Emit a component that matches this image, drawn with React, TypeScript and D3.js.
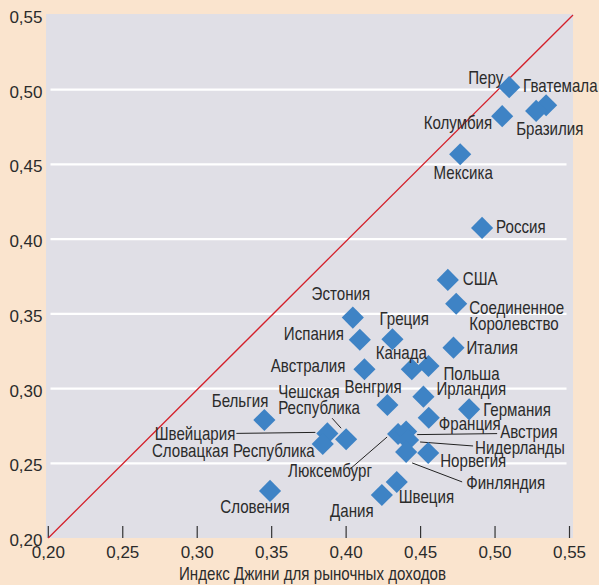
import * as d3 from 'd3';

const W = 599;
const H = 585;

// Страны (подписи) и значения индекса Джини
const countries = [
  'Перу', 'Гватемала', 'Бразилия', 'Колумбия', 'Мексика', 'Россия', 'США',
  'Соединенное\nКоролевство', 'Эстония', 'Испания', 'Греция', 'Италия',
  'Австралия', 'Канада', 'Польша', 'Ирландия', 'Венгрия', 'Германия',
  'Франция', 'Бельгия', 'Чешская\nРеспублика', 'Швейцария',
  'Словацкая Республика', 'Люксембург', 'Австрия', 'Нидерланды',
  'Финляндия', 'Норвегия', 'Швеция', 'Дания', 'Словения',
];
// Индекс Джини для рыночных доходов
const marketGini = [
  0.5095, 0.5343, 0.5276, 0.5048, 0.4766, 0.4913, 0.4683,
  0.4739, 0.4045, 0.4092, 0.4311, 0.4721,
  0.4123, 0.4441, 0.4553, 0.4519, 0.4277, 0.4826,
  0.4555, 0.3451, 0.4, 0.3874,
  0.3843, 0.4349, 0.4403, 0.4416,
  0.4403, 0.4551, 0.434, 0.424, 0.3489,
];
// Индекс Джини для располагаемых доходов
const disposableGini = [
  0.5017, 0.4896, 0.4858, 0.4823, 0.4568, 0.4075, 0.3727,
  0.3568, 0.3475, 0.3327, 0.333, 0.3274,
  0.3129, 0.3129, 0.3151, 0.2946, 0.289, 0.2861,
  0.2805, 0.279, 0.2661, 0.27,
  0.2629, 0.2696, 0.2712, 0.2656,
  0.2576, 0.2569, 0.2375, 0.2288, 0.2315,
];
const ticks = [0.2, 0.25, 0.3, 0.35, 0.4, 0.45, 0.5, 0.55];
const xTitle = 'Индекс Джини для рыночных доходов';

// размещение подписей относительно точки (px): [dx, dy, anchor]
const labelPos: [number, number, string][] = [
  [-6, -3, 'end'], [-23, -13, 'start'], [-20, 24, 'start'], [-10, 13, 'end'],
  [3, 25, 'middle'], [14, 5, 'start'], [15, 5, 'start'], [13, 10, 'start'],
  [-12, -18, 'middle'], [-16, 0, 'end'], [-13, -14, 'start'], [13, 6, 'start'],
  [-19, 3, 'end'], [-36, -10, 'start'], [15, 14, 'start'], [13, -2, 'start'],
  [-43, -12, 'start'], [14, 7, 'start'], [10, 12, 'start'], [4, -13, 'end'],
  [-68, -41, 'start'], [-92, 7, 'end'], [-8, 13, 'end'], [-110, 43, 'start'],
  [94, 6, 'start'], [67, 14, 'start'], [60, 37, 'start'], [12, 14, 'start'],
  [2, 21, 'start'], [-30, 22, 'middle'], [-15, 22, 'middle'],
];
// выноски: индекс страны -> [x1, y1, x2, y2] относительно точки
const leaders: Record<number, [number, number, number, number]> = {
  20: [-14, -21, -5, -11],
  21: [-91, 0, -12, -1],
  23: [-48, 35, -11, 3],
  24: [11, 3, 91, 2],
  25: [12, 2, 65, 6],
  26: [6, 11, 56, 30],
};

const PEACH = '#fae4ce';
const PLOT = '#e0dfe6';
const BLUE = '#3e83c5';
const RED = '#d4202a';
const TXT = '#2b2b2b';
const FONT = '"Liberation Sans", Arial, sans-serif';
const SX = 0.84;

const fmt = (v: number) => v.toFixed(2).replace('.', ',');

export default function App() {
  const x = d3.scaleLinear().domain([0.2, 0.55]).range([48.3, 569.5]);
  const y = d3.scaleLinear().domain([0.2, 0.55]).range([538, 15]);
  const plotL = 46;
  const plotR = 573;
  const plotT = y(0.55) - 1;
  const plotB = y(0.2);
  const diamond = d3.symbol(d3.symbolSquare, 245)() ?? '';

  return (
    <svg width={W} height={H} style={{ position: 'absolute', left: 0, top: 0 }} fontFamily={FONT}>
      <rect width={W} height={H} fill={PEACH} />
      <rect x={plotL} y={plotT} width={plotR - plotL} height={plotB - plotT} fill={PLOT} />
      {ticks.slice(1, -1).map((t) => (
        <line key={t} x1={50.5} x2={566.5} y1={y(t)} y2={y(t)} stroke="#fff" strokeWidth={2.2} />
      ))}
      {ticks.map((t) => (
        <line key={'xt' + t} x1={x(t)} x2={x(t)} y1={plotB - 12} y2={plotB} stroke="#333" strokeWidth={1.2} />
      ))}
      <line x1={x(0.2)} y1={y(0.2)} x2={plotR} y2={y(0.55)} stroke={RED} strokeWidth={1.3} />

      {ticks.map((t) => (
        <text key={'yl' + t} x={42.5} y={y(t) + 8} textAnchor="end" fontSize={17} fill={TXT}>
          {fmt(t)}
        </text>
      ))}
      {ticks.map((t) => (
        <text key={'xl' + t} x={x(t)} y={558} textAnchor="middle" fontSize={17} fill={TXT}>
          {fmt(t)}
        </text>
      ))}
      <text transform={`translate(312.5,580) scale(${SX},1)`} textAnchor="middle" fontSize={18} fill={TXT}>
        {xTitle}
      </text>

      {countries.map((c, i) => {
        const l = leaders[i];
        if (!l) return null;
        const px = x(marketGini[i]);
        const py = y(disposableGini[i]);
        return (
          <line key={'ld' + c} x1={px + l[0]} y1={py + l[1]} x2={px + l[2]} y2={py + l[3]} stroke="#222" strokeWidth={1} />
        );
      })}

      {countries.map((c, i) => (
        <path
          key={'pt' + c}
          d={diamond}
          transform={`translate(${x(marketGini[i])},${y(disposableGini[i])}) rotate(45)`}
          fill={BLUE}
        />
      ))}

      {countries.map((c, i) => {
        const [dx, dy, anchor] = labelPos[i];
        const px = x(marketGini[i]) + dx;
        const py = y(disposableGini[i]) + dy;
        const lines = c.split('\n');
        return (
          <text
            key={'lb' + c}
            transform={`translate(${px},${py}) scale(${SX},1)`}
            textAnchor={anchor}
            fontSize={18}
            fill={TXT}
          >
            {lines.map((s, k) => (
              <tspan key={k} x={0} dy={k === 0 ? 0 : 16}>
                {s}
              </tspan>
            ))}
          </text>
        );
      })}
    </svg>
  );
}
